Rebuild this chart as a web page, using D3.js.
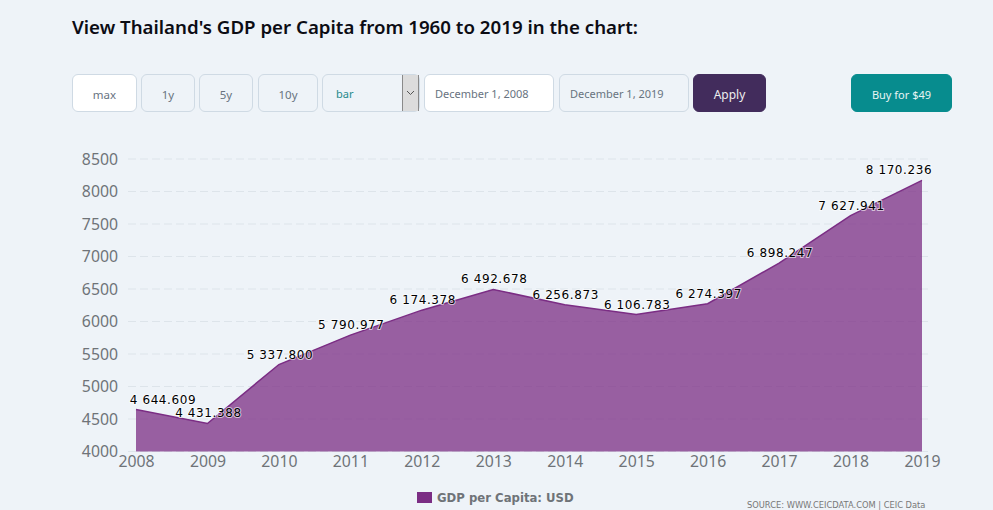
<!DOCTYPE html>
<html>
<head>
<meta charset="utf-8">
<script src="https://cdn.jsdelivr.net/npm/d3@7"></script>
<style>
  html, body { margin: 0; padding: 0; background: #eef3f8; overflow: hidden; }
  body { width: 993px; height: 510px; position: relative; font-family: "Noto Sans", sans-serif; }
  h1 { position: absolute; left: 72px; top: 13px; margin: 0; font-size: 18.7px; line-height: 28px; font-weight: 600; color: #0c0c14; white-space: nowrap; }
  .ctl { position: absolute; top: 74px; height: 38px; box-sizing: border-box; border: 1px solid #cfdae4; border-radius: 6px; font-size: 11.5px; line-height: 39px; color: #68737f; text-align: center; }
  .white { background: #fff; }
  .left { text-align: left; padding-left: 10px; line-height: 38px; font-size: 11px; }
  .arrow { position: absolute; right: 0; top: 0; width: 17px; height: 36px; background: #dcdcdc; border-left: 1px solid #8a8a8a; border-right: 1px solid #8a8a8a; box-sizing: border-box; }
  svg { position: absolute; left: 0; top: 0; }
</style>
</head>
<body>
<h1>View Thailand's GDP per Capita from 1960 to 2019 in the chart:</h1>
<div class="ctl white" style="left:72px;width:65px">max</div>
<div class="ctl" style="left:141px;width:54px">1y</div>
<div class="ctl" style="left:199px;width:54px">5y</div>
<div class="ctl" style="left:258px;width:60px">10y</div>
<div class="ctl left" style="left:322px;width:98px;color:#1f8a8c;padding-left:13px">bar<div class="arrow"><svg width="15" height="36"><path d="M4 16l3.500 3.500l3.500-3.500" fill="none" stroke="#555"/></svg></div></div>
<div class="ctl white left" style="left:424px;width:130px">December 1, 2008</div>
<div class="ctl left" style="left:559px;width:130px">December 1, 2019</div>
<div class="ctl" style="left:693px;width:73px;background:#422c5c;border-color:#422c5c;color:#eee;font-size:12px">Apply</div>
<div class="ctl" style="left:851px;width:101px;background:#078c8e;border-color:#078c8e;color:#e8f4f4;font-size:11px">Buy for $49</div>
<svg id="chart" width="993" height="510"></svg>
<script>
const years = [2008, 2009, 2010, 2011, 2012, 2013, 2014, 2015, 2016, 2017, 2018, 2019];
const gdp = [4644.609, 4431.388, 5337.8, 5790.977, 6174.378, 6492.678, 6256.873, 6106.783, 6274.397, 6898.247, 7627.941, 8170.236];
const yTicks = [4000, 4500, 5000, 5500, 6000, 6500, 7000, 7500, 8000, 8500];
const seriesName = "GDP per Capita: USD";
const sourceText = "SOURCE: WWW.CEICDATA.COM | CEIC Data";

const svg = d3.select("#chart");
const x = d3.scaleLinear().domain([2008, 2019]).range([136, 922]);
const y = d3.scaleLinear().domain([4000, 8500]).range([451.5, 159]);

// Grid lines
svg.selectAll(".grid")
  .data(yTicks)
  .enter()
  .append("line")
  .attr("x1", 128)
  .attr("x2", 931)
  .attr("y1", (d) => y(d))
  .attr("y2", (d) => y(d))
  .attr("stroke", "#dde4ea")
  .attr("stroke-dasharray", "8,4");

// Area and its top line
const points = years.map((year, i) => ({ year, value: gdp[i] }));
const area = d3.area().x((d) => x(d.year)).y0(y(4000)).y1((d) => y(d.value));
const line = d3.line().x((d) => x(d.year)).y((d) => y(d.value));
svg.append("path").attr("d", area(points)).attr("fill", "#7b2d84").attr("fill-opacity", 0.75);
svg.append("path").attr("d", line(points)).attr("fill", "none").attr("stroke", "#7b2d84").attr("stroke-width", 1.5);

// Axes
const yAxis = svg.append("g")
  .attr("transform", "translate(118,0)")
  .call(d3.axisLeft(y).tickValues(yTicks).tickFormat(d3.format("d")).tickSize(0).tickPadding(0));
const xAxis = svg.append("g")
  .attr("transform", "translate(0,451)")
  .call(d3.axisBottom(x).tickValues(years).tickFormat(d3.format("d")).tickSize(0).tickPadding(5));
[yAxis, xAxis].forEach((axis) => {
  axis.select(".domain").remove();
  axis.selectAll("text")
    .attr("fill", "#6f7378")
    .style("font-family", "'Noto Sans', sans-serif")
    .style("font-size", "15.8px");
});

// Value labels
const labels = svg.selectAll(".value")
  .data(points)
  .enter()
  .append("text")
  .attr("class", "value")
  .attr("x", (d) => x(d.year) + (d.year === 2008 ? 27 : d.year === 2019 ? -23 : 1))
  .attr("y", (d) => y(d.value) - 6)
  .attr("text-anchor", "middle")
  .attr("fill", "#000")
  .attr("stroke", "#fff")
  .attr("stroke-width", 2)
  .attr("stroke-opacity", 0.6)
  .attr("paint-order", "stroke")
  .style("font-family", "'DejaVu Sans', sans-serif")
  .style("font-size", "12px")
  .style("letter-spacing", "0.6px")
  .text((d) => d3.format(".3f")(d.value).replace(/^(\d)(\d{3})/, "$1 $2"));

// Legend
svg.append("rect").attr("x", 417).attr("y", 492).attr("width", 15).attr("height", 11).attr("fill", "#7b2d84");
svg.append("text")
  .attr("x", 437)
  .attr("y", 502)
  .attr("fill", "#6f7378")
  .style("font-family", "'DejaVu Sans', sans-serif")
  .style("font-size", "11.7px")
  .style("font-weight", "bold")
  .text(seriesName);

// Source line
svg.append("text")
  .attr("x", 747)
  .attr("y", 508)
  .attr("fill", "#777")
  .style("font-family", "'DejaVu Sans', sans-serif")
  .style("font-size", "8.3px")
  .text(sourceText);
</script>
</body>
</html>
